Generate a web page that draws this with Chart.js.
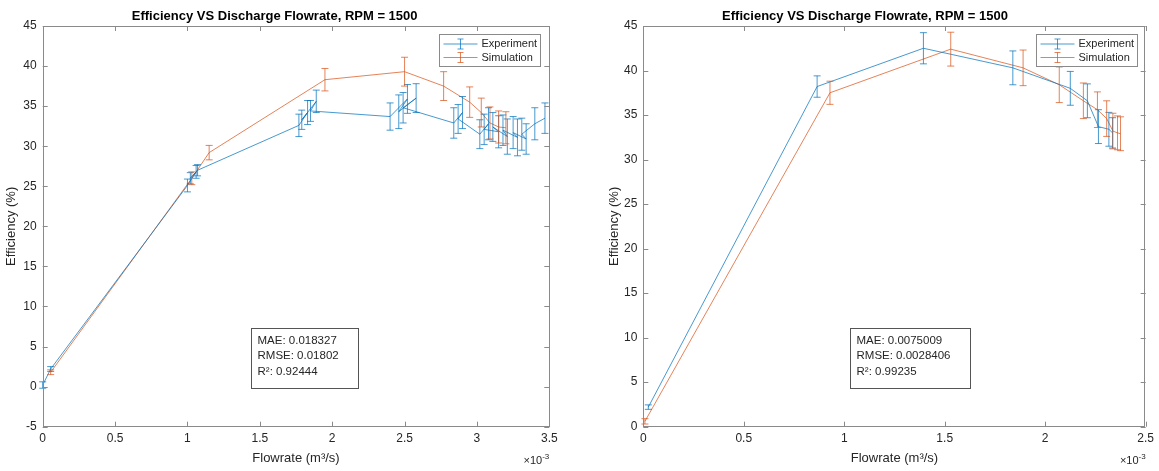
<!DOCTYPE html>
<html>
<head>
<meta charset="utf-8">
<script src="https://cdn.jsdelivr.net/npm/chart.js@4.4.0/dist/chart.umd.min.js"></script>
<style>
  body { margin: 0; background: #fff; }
  #wrap { position: relative; width: 1159px; height: 471px; }
  canvas { position: absolute; top: 0; }
</style>
</head>
<body>
<div id="wrap">
  <canvas id="left" width="580" height="471" style="left:0"></canvas>
  <canvas id="right" width="579" height="471" style="left:580px"></canvas>
</div>
<script>
// flowrate values are in units of 1e-3 m^3/s (the axis shows x10^-3)
const leftExpFlow = [0, 0.055, 1.00, 1.06, 1.02, 1.07, 1.77, 1.83, 1.79, 1.89, 1.85, 2.40, 2.52, 2.46, 2.58, 2.49, 2.84, 2.90, 2.87, 3.02, 3.08, 3.05, 3.15, 3.11, 3.21, 3.18, 3.28, 3.25, 3.34, 3.31, 3.40, 3.47];
const leftExpEff = [0.2, 2.2, 25.1, 26.8, 26.0, 27.0, 32.6, 34.2, 33.3, 35.6, 34.4, 33.7, 35.9, 34.3, 36.0, 34.8, 32.9, 34.2, 33.4, 31.5, 32.8, 32.1, 31.8, 32.4, 31.2, 32.0, 31.1, 31.7, 30.9, 31.5, 32.8, 33.5];
const leftExpErr = [0.4, 0.3, 0.8, 0.8, 0.7, 0.7, 1.4, 1.5, 1.2, 1.4, 1.3, 1.7, 1.8, 2.1, 1.8, 1.9, 1.9, 2.0, 1.8, 1.8, 2.0, 1.9, 2.0, 1.8, 2.2, 1.9, 2.3, 2.0, 1.9, 2.0, 2.0, 1.9];

const leftSimFlow = [0.055, 1.03, 1.15, 1.95, 2.50, 2.77, 2.95, 3.03, 3.09, 3.15, 3.20];
const leftSimEff = [1.8, 26.0, 29.2, 38.3, 39.3, 37.5, 35.5, 34.2, 32.9, 32.4, 32.3];
const leftSimErr = [0.3, 0.8, 0.9, 1.4, 1.8, 1.8, 1.9, 1.8, 2.0, 2.0, 2.0];

const rightExpFlow = [0.025, 0.865, 1.394, 1.839, 2.125, 2.21, 2.265, 2.317, 2.335];
const rightExpEff = [2.2, 38.2, 42.5, 40.3, 38.0, 36.6, 33.7, 33.4, 33.0];
const rightExpErr = [0.25, 1.2, 1.75, 1.9, 1.9, 1.9, 1.9, 1.9, 1.7];

const rightSimFlow = [0.008, 0.929, 1.53, 1.89, 2.07, 2.19, 2.26, 2.306, 2.337, 2.36, 2.375];
const rightSimEff = [0.6, 37.5, 42.4, 40.3, 38.4, 36.6, 35.6, 34.6, 33.2, 33.0, 32.9];
const rightSimErr = [0.3, 1.3, 1.9, 2.0, 2.0, 2.0, 2.0, 2.0, 2.0, 1.9, 1.9];

const leftXTicks = [0, 0.5, 1, 1.5, 2, 2.5, 3, 3.5];
const leftYTicks = [-5, 0, 5, 10, 15, 20, 25, 30, 35, 40, 45];
const rightXTicks = [0, 0.5, 1, 1.5, 2, 2.5];
const rightYTicks = [0, 5, 10, 15, 20, 25, 30, 35, 40, 45];

const leftStats = ["MAE: 0.018327", "RMSE: 0.01802", "R²: 0.92444"];
const rightStats = ["MAE: 0.0075009", "RMSE: 0.0028406", "R²: 0.99235"];

const BLUE = "rgba(0,114,189,0.72)";
const ORANGE = "rgba(217,83,25,0.72)";
const AXIS = "#8a8a8a";
const TEXT = "#262626";
const FONT = "'Liberation Sans', Arial, sans-serif";

function toPoints(xs, ys) {
  return xs.map((x, i) => ({ x: x, y: ys[i] }));
}

// error bars, drawn with the chart's own scales
const errorBars = {
  id: "errorBars",
  afterDatasetsDraw(chart) {
    const ctx = chart.ctx;
    const xs = chart.scales.x, ys = chart.scales.y;
    chart.data.datasets.forEach((ds) => {
      ctx.save();
      ctx.strokeStyle = ds.borderColor;
      ctx.lineWidth = 1;
      ds.data.forEach((p, j) => {
        const e = ds.errors[j];
        const px = xs.getPixelForValue(p.x);
        const y1 = ys.getPixelForValue(p.y - e);
        const y2 = ys.getPixelForValue(p.y + e);
        ctx.beginPath();
        ctx.moveTo(px, y1); ctx.lineTo(px, y2);
        ctx.moveTo(px - 3.5, y1); ctx.lineTo(px + 3.5, y1);
        ctx.moveTo(px - 3.5, y2); ctx.lineTo(px + 3.5, y2);
        ctx.stroke();
      });
      ctx.restore();
    });
  }
};

// box, inward ticks, legend, stats text, exponent label
const matlabFrame = {
  id: "matlabFrame",
  afterDraw(chart, args, opts) {
    const ctx = chart.ctx;
    const a = chart.chartArea;
    const xs = chart.scales.x, ys = chart.scales.y;
    ctx.save();
    ctx.strokeStyle = AXIS;
    ctx.lineWidth = 1;
    ctx.strokeRect(Math.round(a.left) + 0.5, Math.round(a.top) + 0.5,
      Math.round(a.right - a.left) - 1, Math.round(a.bottom - a.top) - 1);
    ctx.beginPath();
    xs.ticks.forEach((t) => {
      const px = Math.round(xs.getPixelForValue(t.value)) + 0.5;
      ctx.moveTo(px, a.bottom); ctx.lineTo(px, a.bottom - 5);
      ctx.moveTo(px, a.top); ctx.lineTo(px, a.top + 5);
    });
    ys.ticks.forEach((t) => {
      const py = Math.round(ys.getPixelForValue(t.value)) + 0.5;
      ctx.moveTo(a.left, py); ctx.lineTo(a.left + 5, py);
      ctx.moveTo(a.right, py); ctx.lineTo(a.right - 5, py);
    });
    ctx.stroke();

    // legend
    const lw = 101, lh = 32;
    const lx = Math.round(a.right - 9 - lw) + 0.5, ly = Math.round(a.top + 8) + 0.5;
    ctx.fillStyle = "#fff";
    ctx.fillRect(lx, ly, lw, lh);
    ctx.strokeStyle = AXIS;
    ctx.strokeRect(lx, ly, lw, lh);
    ctx.font = "11px " + FONT;
    ctx.textBaseline = "middle";
    chart.data.datasets.forEach((ds, i) => {
      const cy = ly + 9.5 + i * 13.5;
      ctx.strokeStyle = ds.borderColor;
      ctx.beginPath();
      ctx.moveTo(lx + 4, cy); ctx.lineTo(lx + 38, cy);
      const cx = lx + 21;
      ctx.moveTo(cx, cy - 5); ctx.lineTo(cx, cy + 5);
      ctx.moveTo(cx - 3, cy - 5); ctx.lineTo(cx + 3, cy - 5);
      ctx.moveTo(cx - 3, cy + 5); ctx.lineTo(cx + 3, cy + 5);
      ctx.stroke();
      ctx.fillStyle = TEXT;
      ctx.fillText(ds.label, lx + 42, cy);
    });

    // stats annotation
    ctx.font = "11.5px " + FONT;
    const tw = Math.max(...opts.stats.map((s) => ctx.measureText(s).width));
    const bx = Math.round(a.left + (a.right - a.left) * 0.412) + 0.5;
    const by = Math.round(a.top + (a.bottom - a.top) * 0.753) + 0.5;
    ctx.strokeStyle = "#555";
    ctx.strokeRect(bx, by, Math.round(tw + 26), 60);
    ctx.fillStyle = TEXT;
    opts.stats.forEach((s, i) => {
      ctx.fillText(s, bx + 6, by + 12 + i * 15.5);
    });

    // x10^-3 exponent
    ctx.textBaseline = "alphabetic";
    ctx.textAlign = "right";
    ctx.font = "8px " + FONT;
    ctx.fillText("-3", a.right, 459);
    const ew = ctx.measureText("-3").width;
    ctx.font = "11px " + FONT;
    ctx.fillText("×10", a.right - ew, 464);
    ctx.restore();
  }
};

function makeChart(id, exp, sim, xTicks, yTicks, padRight, yWidth, yTitlePad, stats) {
  return new Chart(document.getElementById(id), {
    type: "scatter",
    data: {
      datasets: [
        { label: "Experiment", data: exp.pts, errors: exp.err, borderColor: BLUE, backgroundColor: BLUE,
          showLine: true, borderWidth: 1, pointRadius: 0 },
        { label: "Simulation", data: sim.pts, errors: sim.err, borderColor: ORANGE, backgroundColor: ORANGE,
          showLine: true, borderWidth: 1, pointRadius: 0 }
      ]
    },
    options: {
      responsive: false,
      animation: false,
      layout: { padding: { left: 0, right: padRight, top: 0, bottom: 0 } },
      plugins: {
        legend: { display: false },
        tooltip: { enabled: false },
        title: {
          display: true,
          text: "Efficiency VS Discharge Flowrate, RPM = 1500",
          color: "#000",
          font: { family: FONT, size: 13, weight: "bold" },
          padding: { top: 8.5, bottom: 1.9 }
        },
        matlabFrame: { stats: stats }
      },
      scales: {
        x: {
          type: "linear",
          min: xTicks[0],
          max: xTicks[xTicks.length - 1],
          afterBuildTicks: (s) => { s.ticks = xTicks.map((v) => ({ value: v })); },
          afterFit: (s) => { s.height = 44.3; },
          grid: { display: false, drawTicks: false },
          border: { display: false },
          ticks: { color: TEXT, font: { family: FONT, size: 12 }, padding: 5, maxRotation: 0,
            callback: (v) => String(v) },
          title: { display: true, text: "Flowrate (m³/s)", color: TEXT,
            font: { family: FONT, size: 13 }, padding: { top: 0, bottom: 5 } }
        },
        y: {
          type: "linear",
          min: yTicks[0],
          max: yTicks[yTicks.length - 1],
          afterBuildTicks: (s) => { s.ticks = yTicks.map((v) => ({ value: v })); },
          afterFit: (s) => { s.width = yWidth; },
          grid: { display: false, drawTicks: false },
          border: { display: false },
          ticks: { color: TEXT, font: { family: FONT, size: 12 }, padding: 6,
            callback: (v) => String(v) },
          title: { display: true, text: "Efficiency (%)", color: TEXT,
            font: { family: FONT, size: 13 }, padding: { top: yTitlePad, bottom: 0 } }
        }
      }
    },
    plugins: [errorBars, matlabFrame]
  });
}

makeChart("left",
  { pts: toPoints(leftExpFlow, leftExpEff), err: leftExpErr },
  { pts: toPoints(leftSimFlow, leftSimEff), err: leftSimErr },
  leftXTicks, leftYTicks, 30.7, 42.7, 4, leftStats);

makeChart("right",
  { pts: toPoints(rightExpFlow, rightExpEff), err: rightExpErr },
  { pts: toPoints(rightSimFlow, rightSimEff), err: rightSimErr },
  rightXTicks, rightYTicks, 9, 63.3, 27, rightStats);
</script>
</body>
</html>
